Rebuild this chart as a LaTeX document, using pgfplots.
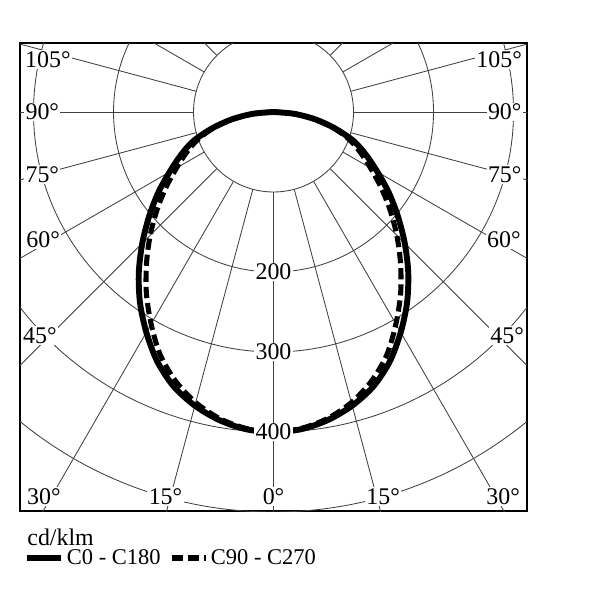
\documentclass[border=0pt]{standalone}
\usepackage{pgfplots}
\pgfplotsset{compat=1.18}
\usepackage{fontspec}
\setmainfont{Liberation Serif}

\colorlet{gridc}{black!75}
\tikzset{lbl/.style={fill=white, inner sep=1pt}}

\begin{document}
\begin{tikzpicture}[font=\fontsize{17}{20}\selectfont]
\begin{axis}[
  x=0.02cm, y=0.02cm,
  xmin=-317, xmax=317, ymin=-499, ymax=86,
  xtick=\empty, ytick=\empty,
  axis line style={line width=1pt},
  legend style={draw=none, fill=none, at={(0.008,-0.1)}, anchor=west,
    legend columns=2, inner sep=0pt, font=\fontsize{16}{19}\selectfont,
    /tikz/every even column/.append style={column sep=4pt}},
  legend cell align=left,
  legend image code/.code={\draw[#1] (0cm,0cm) -- (0.85cm,0cm);},
]
% polar grid: circles every 100 cd/klm, rays every 15 deg
\pgfplotsinvokeforeach{100,200,300,400,500}{
  \draw[gridc, line width=0.6pt] (axis cs:0,0) circle[radius=#1];
}
\pgfplotsinvokeforeach{0,15,...,345}{
  \draw[gridc, line width=0.6pt] (axis cs:{100*cos(#1)},{100*sin(#1)}) -- (axis cs:{800*cos(#1)},{800*sin(#1)});
}

% C0 - C180
\addplot[black, line width=4.2pt, smooth, data cs=polar] coordinates {
  (-180,0) (-175,26) (-170,53) (-165,80) (-160,107) (-155,128) (-150,150)
  (-145,176) (-140,203) (-135,232) (-130,262) (-125,291) (-120,318)
  (-115,344) (-110,365) (-105,380) (-100,391) (-95,398) (-90,400)
  (-85,398) (-80,391) (-75,380) (-70,365) (-65,344) (-60,318) (-55,291)
  (-50,262) (-45,232) (-40,203) (-35,176) (-30,150) (-25,128) (-20,107)
  (-15,80) (-10,53) (-5,26) (0,0)
};
\addlegendentry{C0 - C180}
% C90 - C270
\addplot[black, line width=3.6pt, smooth, data cs=polar, dash pattern=on 8pt off 3.5pt] coordinates {
  (-180,0) (-175,26) (-170,52) (-165,78) (-160,101) (-155,120) (-150,140)
  (-145,164) (-140,190) (-135,218) (-130,247) (-125,277) (-120,306)
  (-115,335) (-110,358) (-105,376) (-100,389) (-95,397) (-90,400)
  (-85,397) (-80,389) (-75,376) (-70,358) (-65,335) (-60,306) (-55,277)
  (-50,247) (-45,218) (-40,190) (-35,164) (-30,140) (-25,120) (-20,101)
  (-15,78) (-10,52) (-5,26) (0,0)
};
\addlegendentry{C90 - C270}

% intensity labels
\node[lbl] at (axis cs:0,-200) {200};
\node[lbl] at (axis cs:0,-300) {300};
\node[lbl] at (axis cs:0,-400) {400};

% angle labels
\node[lbl] at (axis cs:-282,66) {105°};
\node[lbl] at (axis cs:-289,0) {90°};
\node[lbl] at (axis cs:-289,-78) {75°};
\node[lbl] at (axis cs:-288,-160) {60°};
\node[lbl] at (axis cs:-292,-279) {45°};
\node[lbl] at (axis cs:-287,-481) {30°};
\node[lbl] at (axis cs:-135,-481) {15°};
\node[lbl] at (axis cs:0,-481) {0°};
\node[lbl] at (axis cs:282,66) {105°};
\node[lbl] at (axis cs:289,0) {90°};
\node[lbl] at (axis cs:289,-78) {75°};
\node[lbl] at (axis cs:288,-160) {60°};
\node[lbl] at (axis cs:292,-279) {45°};
\node[lbl] at (axis cs:287,-481) {30°};
\node[lbl] at (axis cs:137,-481) {15°};

\coordinate (cdk) at (axis cs:-308,-532);
\coordinate (bbA) at (axis cs:-341.9,140);
\coordinate (bbB) at (axis cs:408.1,-610);
\end{axis}
\node[anchor=west, inner sep=0pt] at (cdk) {cd/klm};
\pgfresetboundingbox
\useasboundingbox (bbA) rectangle (bbB);
\end{tikzpicture}
\end{document}
